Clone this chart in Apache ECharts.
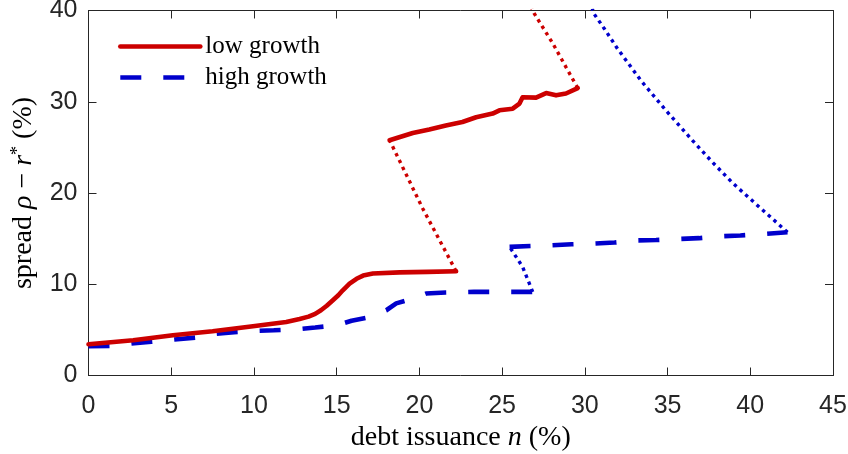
<!DOCTYPE html>
<html>
<head>
<meta charset="utf-8">
<script src="https://cdn.jsdelivr.net/npm/echarts@6/dist/echarts.min.js"></script>
<style>
html,body{margin:0;padding:0;background:#fff;}
#chart{width:848px;height:454px;}
</style>
</head>
<body>
<div id="chart"></div>
<script>
// ---- data (x = debt issuance n in %, y = spread in %) ----
var xTicks = [0, 5, 10, 15, 20, 25, 30, 35, 40, 45];
var yTicks = [0, 10, 20, 30, 40];

// low growth: solid branches
var lowSolidA = [[0,3.43],[2.7,3.87],[5.1,4.41],[7.5,4.85],[9.94,5.4],[11.95,5.87],[12.76,6.2],[13.3,6.45],[13.7,6.75],[14.05,7.15],[14.4,7.65],[14.77,8.25],[15.1,8.8],[15.37,9.34],[15.78,10.07],[16.2,10.6],[16.6,10.95],[17.19,11.17],[18.8,11.3],[20.5,11.36],[22.22,11.42]];
var lowSolidB = [[18.2,25.78],[19.6,26.57],[20.6,26.95],[21.6,27.4],[22.6,27.78],[23.43,28.3],[24.43,28.7],[24.84,29.06],[25.64,29.24],[26.05,29.8],[26.24,30.5],[27.05,30.45],[27.66,30.95],[28.26,30.7],[28.86,30.9],[29.57,31.5]];
// low growth: dotted branches
var lowDotA = [[22.22,11.42],[20.2,18.3],[18.2,25.78]];
var lowDotB = [[29.57,31.5],[28.86,33.8],[28.06,36.4],[26.95,39.65],[26.8,40.2]];

// high growth: dashed branches
var highDashA = [[0,3.2],[1.3,3.25],[2.6,3.5],[3.8,3.7],[5.2,3.94],[6.5,4.16],[7.6,4.55],[8.8,4.75],[10.1,4.89],[11.2,4.96],[12.6,5.07],[13.7,5.26],[15.0,5.5],[15.9,6.0],[17.0,6.4],[18.0,7.15],[18.6,7.9],[19.6,8.43],[20.4,8.98],[21.6,9.09],[23.3,9.16],[26.85,9.16]];
var highDashB = [[25.45,14.1],[28.0,14.27],[29.2,14.38],[30.5,14.46],[31.8,14.57],[33.1,14.8],[34.3,14.85],[35.7,14.96],[36.9,15.05],[38.2,15.25],[39.4,15.35],[40.7,15.5],[42.25,15.7]];
// high growth: dotted branches
var highDotA = [[26.85,9.16],[26.24,11.9],[25.45,14.1]];
var highDotB = [[42.25,15.7],[40.54,18.47],[38.93,21.1],[37.7,23.4],[36.5,25.77],[34.9,29.05],[33.4,32.3],[31.98,35.8],[31.18,38.0],[30.57,39.6],[30.45,40.2]];

function joinSegs(a, b) { return a.concat([[null, null]], b); }

var axisColor = '#262626';
var red = '#CC0000';
var blue = '#0000CC';

var chart = echarts.init(document.getElementById('chart'), null, {renderer: 'canvas'});

var tickFont = {fontFamily: 'Liberation Sans', fontSize: 25, color: axisColor};

function mkX(pos, showLabel, name) {
  return {
    type: 'value', position: pos, min: 0, max: 45, interval: 5,
    splitLine: {show: false},
    axisLine: {show: true, onZero: false, lineStyle: {color: axisColor, width: 1}},
    axisTick: {show: true, inside: true, length: 8, lineStyle: {color: axisColor, width: 1}},
    axisLabel: Object.assign({show: showLabel, margin: 18}, tickFont),
    name: name || '', nameLocation: 'middle', nameGap: 44,
    nameTextStyle: {
      fontFamily: 'Liberation Serif', fontSize: 28, color: '#000',
      rich: {i: {fontFamily: 'Liberation Serif', fontSize: 28, fontStyle: 'italic', color: '#000'}}
    }
  };
}
function mkY(pos, showLabel, name) {
  return {
    type: 'value', position: pos, min: 0, max: 40, interval: 10,
    splitLine: {show: false},
    axisLine: {show: true, onZero: false, lineStyle: {color: axisColor, width: 1}},
    axisTick: {show: true, inside: true, length: 8, lineStyle: {color: axisColor, width: 1}},
    axisLabel: Object.assign({show: showLabel, margin: 11}, tickFont),
    name: name || '', nameLocation: 'middle', nameGap: 51, nameRotate: 90,
    nameTextStyle: {
      fontFamily: 'Liberation Serif', fontSize: 28, color: '#000',
      rich: {
        i: {fontFamily: 'Liberation Serif', fontSize: 28, fontStyle: 'italic', color: '#000'},
        s: {fontFamily: 'Liberation Serif', fontSize: 18, color: '#000', verticalAlign: 'top', padding: [0, 0, 10, 0]}
      }
    }
  };
}

var option = {
  animation: false,
  backgroundColor: '#fff',
  grid: {left: 88.5, top: 10.5, width: 744.5, height: 365, outerBoundsMode: 'none', containLabel: false},
  legend: {
    data: ['low growth', 'high growth'],
    orient: 'vertical', left: 113, top: 29,
    itemWidth: 80, itemHeight: 14, itemGap: 6,
    itemStyle: {opacity: 0},
    lineStyle: {width: 4.6},
    textStyle: {fontFamily: 'Liberation Serif', fontSize: 25, color: '#000', lineHeight: 25}
  },
  xAxis: [mkX('bottom', true, 'debt issuance {i|n} (%)'), mkX('top', false)],
  yAxis: [mkY('left', true, 'spread {i|ρ} − {i|r}{s|*} (%)'), mkY('right', false)],
  series: [
    {
      name: 'low growth', type: 'line', symbol: 'none', connectNulls: false,
      data: joinSegs(lowSolidA, lowSolidB),
      lineStyle: {color: red, width: 4.6, type: 'solid', join: 'round', cap: 'round'},
      itemStyle: {color: red}, z: 3
    },
    {
      name: 'high growth', type: 'line', symbol: 'none', connectNulls: false,
      data: joinSegs(highDashA, highDashB),
      lineStyle: {color: blue, width: 4.6, type: [21, 22], cap: 'butt'},
      itemStyle: {color: blue}, z: 2
    },
    {
      name: 'low growth (unstable)', type: 'line', symbol: 'none', connectNulls: false,
      data: joinSegs(lowDotA, lowDotB),
      lineStyle: {color: red, width: 3.4, type: [3.4, 4.2], cap: 'butt'},
      itemStyle: {color: red}, z: 2
    },
    {
      name: 'high growth (unstable)', type: 'line', symbol: 'none', connectNulls: false,
      data: joinSegs(highDotA, highDotB),
      lineStyle: {color: blue, width: 3.4, type: [3.4, 4.2], cap: 'butt'},
      itemStyle: {color: blue}, z: 2
    }
  ]
};
chart.setOption(option);
</script>
</body>
</html>
